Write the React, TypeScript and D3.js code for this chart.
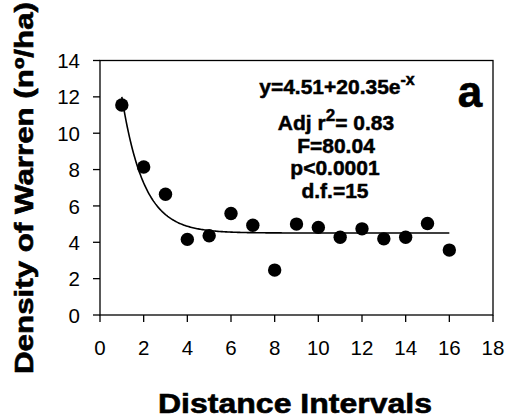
import React from "react";
import * as d3 from "d3";

const distanceIntervals = [1, 2, 3, 4, 5, 6, 7, 8, 9, 10, 11, 12, 13, 14, 15, 16];
const warrenDensity = [11.55, 8.14, 6.64, 4.16, 4.36, 5.58, 4.94, 2.47, 5.0, 4.82, 4.28, 4.74, 4.19, 4.28, 5.03, 3.57];
const xTicks = [0, 2, 4, 6, 8, 10, 12, 14, 16, 18];
const yTicks = [0, 2, 4, 6, 8, 10, 12, 14];
// fitted model shown on the chart: y = a + b * e^-x
const fitA = 4.51;
const fitB = 20.35;
const fitRange = [1, 16];

const W = 506;
const H = 419;
const FONT = "'Liberation Sans', Arial, sans-serif";

export default function App() {
  const x = d3.scaleLinear().domain([0, 18]).range([100, 493]);
  const y = d3.scaleLinear().domain([0, 14]).range([315, 60.5]);

  const fitXs = d3.range(fitRange[0], fitRange[1] + 0.0001, 0.05);
  const line = d3
    .line<number>()
    .x((d) => x(d))
    .y((d) => y(fitA + fitB * Math.exp(-d)))
    .curve(d3.curveLinear);

  const x0 = x(0);
  const x1 = x(18);
  const y0 = y(0);
  const y1 = y(14);

  return (
    <svg
      width={W}
      height={H}
      style={{ position: "absolute", left: 0, top: 0, background: "#fff" }}
      fontFamily={FONT}
    >
      <rect x={0} y={0} width={W} height={H} fill="#fff" />
      {/* frame */}
      <rect x={x0} y={y1} width={x1 - x0} height={y0 - y1} fill="none" stroke="#000" strokeWidth={1.3} />
      {/* y ticks */}
      {yTicks.map((t) => (
        <g key={"y" + t}>
          <line x1={x0 - 7} x2={x0} y1={y(t)} y2={y(t)} stroke="#000" strokeWidth={1.3} />
          <text x={80} y={y(t)} dy="0.37em" textAnchor="end" fontSize={20.5}>
            {t}
          </text>
        </g>
      ))}
      {/* x ticks */}
      {xTicks.map((t) => (
        <g key={"x" + t}>
          <line x1={x(t)} x2={x(t)} y1={y0} y2={y0 + 7} stroke="#000" strokeWidth={1.3} />
          <text x={x(t)} y={355} textAnchor="middle" fontSize={20.5}>
            {t}
          </text>
        </g>
      ))}
      {/* fit curve */}
      <path d={line(fitXs) || ""} fill="none" stroke="#000" strokeWidth={1.6} />
      {/* points */}
      {distanceIntervals.map((d, i) => (
        <circle key={"p" + d} cx={x(d)} cy={y(warrenDensity[i])} r={6.7} fill="#000" />
      ))}
      {/* annotation */}
      <g fontWeight="bold" fontSize={21} textAnchor="middle" stroke="#000" strokeWidth={0.5}>
        <text x={337} y={94}>
          y=4.51+20.35e
          <tspan fontSize={16} dy={-9}>-x</tspan>
        </text>
        <text x={336} y={130}>
          Adj r<tspan fontSize={17} dy={-9}>2</tspan>
          <tspan dy={9}>= 0.83</tspan>
        </text>
        <text x={336} y={153}>F=80.04</text>
        <text x={335} y={175}>p&lt;0.0001</text>
        <text x={335} y={198}>d.f.=15</text>
      </g>
      <text x={470} y={107} textAnchor="middle" fontWeight="bold" fontSize={44} stroke="#000" strokeWidth={0.6}>
        a
      </text>
      {/* axis titles */}
      <text
        x={295}
        y={413}
        textAnchor="middle"
        fontWeight="bold"
        fontSize={28}
        textLength={274}
        lengthAdjust="spacingAndGlyphs"
        stroke="#000"
        strokeWidth={0.6}
      >
        Distance Intervals
      </text>
      <text
        transform="translate(33,188) rotate(-90)"
        textAnchor="middle"
        fontWeight="bold"
        fontSize={26}
        textLength={372}
        lengthAdjust="spacingAndGlyphs"
        stroke="#000"
        strokeWidth={0.6}
      >
        Density of Warren (nº/ha)
      </text>
    </svg>
  );
}
